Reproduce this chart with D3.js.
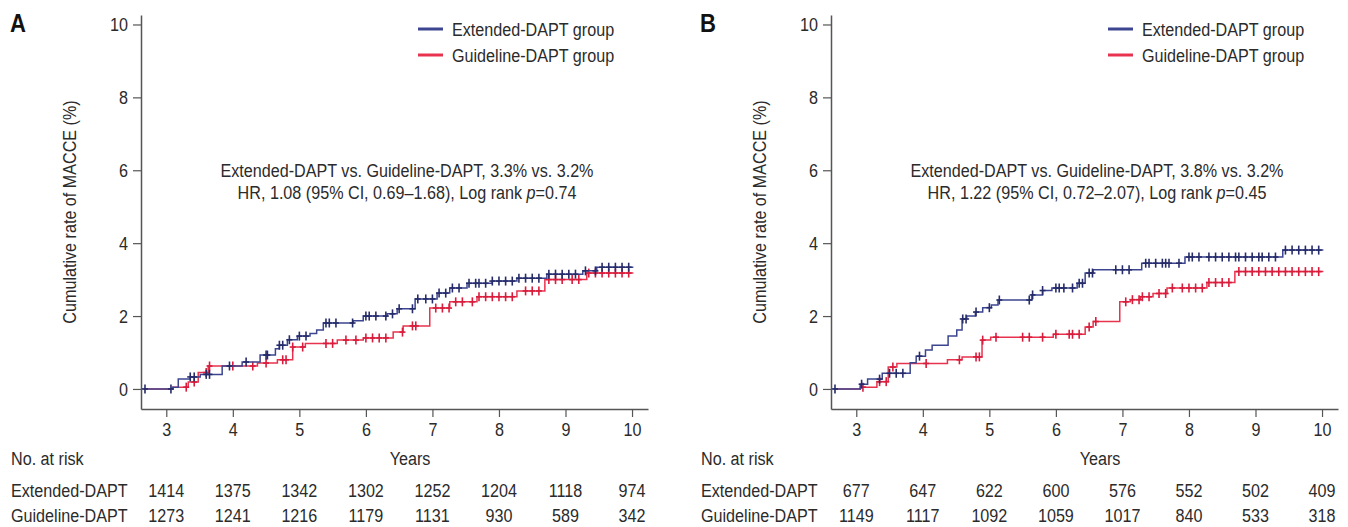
<!DOCTYPE html>
<html>
<head>
<meta charset="utf-8">
<script src="https://cdn.jsdelivr.net/npm/d3@7"></script>
<style>
  body { margin: 0; background: #fff; }
  svg text { font-family: "Liberation Sans", Arial, sans-serif; fill: #2b2b2b; font-size: 19px; }
</style>
</head>
<body>
<svg id="chart" width="1348" height="527"></svg>
<script>
// ---- data ----
const years = [3, 4, 5, 6, 7, 8, 9, 10];
const yTicks = [0, 2, 4, 6, 8, 10];
const groupNames = ["Extended-DAPT group", "Guideline-DAPT group"];
const riskLabels = ["Extended-DAPT", "Guideline-DAPT"];

const riskA_ext = [1414, 1375, 1342, 1302, 1252, 1204, 1118, 974];
const riskA_gui = [1273, 1241, 1216, 1179, 1131, 930, 589, 342];
const riskB_ext = [677, 647, 622, 600, 576, 552, 502, 409];
const riskB_gui = [1149, 1117, 1092, 1059, 1017, 840, 533, 318];

// step curves: [years, cumulative %]
const stepA_ext = [[2.66,0],[3.09,0.05],[3.18,0.27],[3.36,0.33],[3.51,0.4],[3.84,0.63],[4.14,0.74],[4.41,0.93],
  [4.64,1.1],[4.7,1.2],[4.82,1.35],[4.97,1.45],[5.16,1.52],[5.26,1.62],[5.36,1.81],[5.81,1.87],[5.96,2.0],
  [6.32,2.06],[6.47,2.2],[6.74,2.47],[7.07,2.63],[7.26,2.77],[7.52,2.9],[7.9,2.96],[8.27,3.04],[8.72,3.15],
  [9.26,3.24],[9.47,3.34],[10.02,3.34]];
const stepA_gui = [[2.66,0],[3.1,0.05],[3.33,0.19],[3.48,0.45],[3.63,0.63],[4.37,0.71],[4.67,0.8],[4.9,1.15],
  [5.09,1.25],[5.57,1.34],[5.96,1.4],[6.41,1.56],[6.56,1.73],[6.96,2.22],[7.26,2.39],[7.67,2.53],[8.27,2.69],
  [8.69,3.0],[9.32,3.18],[10.02,3.18]];
const stepB_ext = [[2.66,0],[3.06,0.13],[3.17,0.27],[3.39,0.43],[3.81,0.72],[3.9,0.9],[4.04,1.07],[4.14,1.2],
  [4.38,1.45],[4.51,1.62],[4.59,1.92],[4.66,2.0],[4.79,2.11],[4.9,2.23],[5.03,2.3],[5.13,2.44],[5.64,2.58],
  [5.8,2.7],[5.94,2.77],[6.32,2.9],[6.44,3.18],[6.56,3.27],[7.29,3.45],[7.94,3.62],[9.41,3.81],[10.02,3.81]];
const stepB_gui = [[2.66,0],[3.06,0.05],[3.31,0.2],[3.48,0.6],[3.61,0.7],[4.37,0.8],[4.59,0.88],[4.89,1.34],
  [5.02,1.42],[5.96,1.5],[6.44,1.7],[6.56,1.85],[6.96,2.39],[7.12,2.45],[7.27,2.53],[7.46,2.62],[7.67,2.77],
  [8.27,2.92],[8.69,3.22],[10.02,3.22]];

// censoring times (years)
const censA_ext = [2.68,3.07,3.36,3.42,3.6,3.65,3.95,4.2,4.5,4.52,4.7,4.75,4.85,5.0,5.1,5.4,5.45,5.55,5.8,6.0,6.05,
  6.15,6.3,6.4,6.5,6.7,6.78,6.9,7.0,7.1,7.2,7.3,7.4,7.55,7.65,7.7,7.8,7.9,8.0,8.1,8.2,8.3,8.4,8.5,8.6,8.75,8.85,
  8.95,9.05,9.15,9.3,9.45,9.55,9.65,9.75,9.85,9.95];
const censA_gui = [3.3,3.42,3.6,3.65,4.0,4.3,4.5,4.75,4.8,4.9,5.05,5.4,5.5,5.7,5.85,6.0,6.1,6.2,6.3,6.55,6.7,6.75,
  7.05,7.15,7.25,7.35,7.45,7.6,7.7,7.8,7.9,8.0,8.1,8.2,8.4,8.5,8.6,8.75,8.85,8.95,9.1,9.2,9.35,9.45,9.55,9.65,
  9.75,9.85,9.95];
const censB_ext = [2.68,3.08,3.35,3.5,3.6,3.7,3.95,4.6,4.65,4.8,5.0,5.15,5.6,5.65,5.8,6.0,6.05,6.12,6.25,6.35,6.4,
  6.5,6.55,6.9,7.0,7.1,7.35,7.4,7.5,7.6,7.65,7.7,7.85,8.0,8.05,8.15,8.3,8.4,8.5,8.6,8.7,8.75,8.85,8.95,9.05,9.1,
  9.2,9.3,9.45,9.55,9.65,9.75,9.85,9.95];
const censB_gui = [3.1,3.35,3.45,3.55,4.05,4.55,4.8,4.85,4.9,5.1,5.5,5.6,5.8,6.0,6.2,6.25,6.35,6.5,6.6,7.05,7.15,
  7.25,7.3,7.4,7.55,7.65,7.75,7.9,8.0,8.1,8.2,8.3,8.4,8.5,8.6,8.75,8.85,8.95,9.05,9.15,9.25,9.35,9.45,9.55,9.65,
  9.75,9.85,9.95];

const statsA = ["Extended-DAPT vs. Guideline-DAPT, 3.3% vs. 3.2%", "HR, 1.08 (95% CI, 0.69\u20131.68), Log rank ", "=0.74"];
const statsB = ["Extended-DAPT vs. Guideline-DAPT, 3.8% vs. 3.2%", "HR, 1.22 (95% CI, 0.72\u20132.07), Log rank ", "=0.45"];

const colors = ["#3c4590", "#e8334e"];
const markColors = ["#262c6a", "#d91c3c"];
const SX = 0.85; // narrow the Arial-metric font to look condensed

const svg = d3.select("#chart");

// condensed text: placed with translate, squeezed horizontally
function addText(g, x, y, str, anchor, rot) {
  return g.append("text")
    .attr("transform", "translate(" + x + "," + y + ")" + (rot ? " rotate(" + rot + ")" : "") + " scale(" + SX + ",1)")
    .attr("text-anchor", anchor || "start")
    .text(str);
}

function drawPanel(dx, letter, curves, cens, risk, stats) {
  const g = svg.append("g").attr("transform", "translate(" + dx + ",0)");

  const x = d3.scaleLinear().domain([2.62, 10.24]).range([141, 648]);
  const y = d3.scaleLinear().domain([-0.55, 10.26]).range([409, 15]);

  // panel letter
  addText(g, 10, 32, letter).style("font-size", "26px").style("font-weight", "bold").style("fill", "#111");

  // y axis
  const yAxis = g.append("g").attr("transform", "translate(141,0)")
    .call(d3.axisLeft(y).tickValues(yTicks).tickSize(8).tickPadding(5).tickSizeOuter(0));
  // x axis
  const xAxis = g.append("g").attr("transform", "translate(0,409)")
    .call(d3.axisBottom(x).tickValues(years).tickSize(8).tickPadding(6).tickSizeOuter(0));
  [yAxis, xAxis].forEach(a => {
    a.select(".domain").attr("stroke", "#555").attr("stroke-width", 1.5);
    a.selectAll(".tick line").attr("stroke", "#555").attr("stroke-width", 1.2);
    a.selectAll(".tick text")
      .style("font-size", "19px")
      .style("font-family", "'Liberation Sans', Arial, sans-serif")
      .attr("fill", "#2b2b2b")
      .attr("x", function() { return (+d3.select(this).attr("x") || 0) / SX; })
      .attr("transform", "scale(" + SX + ",1)");
  });

  addText(g, 76, 212, "Cumulative rate of MACCE (%)", "middle", -90);

  // curves
  const line = d3.line().x(d => x(d[0])).y(d => y(d[1])).curve(d3.curveStepAfter);
  [1, 0].forEach(i => {
    g.append("path").datum(curves[i])
      .attr("d", line)
      .attr("fill", "none")
      .attr("stroke", colors[i])
      .attr("stroke-width", 1.5);

    const valueAt = t => {
      let v = 0;
      curves[i].forEach(p => { if (p[0] <= t) v = p[1]; });
      return v;
    };
    const marks = g.append("g").selectAll("g").data(cens[i]).join("g")
      .attr("transform", t => "translate(" + x(t) + "," + y(valueAt(t)) + ")")
      .attr("stroke", markColors[i]).attr("stroke-width", 1.6);
    marks.append("line").attr("x1", 0).attr("x2", 0).attr("y1", -4.5).attr("y2", 4.5);
    marks.append("line").attr("x1", -3).attr("x2", 3).attr("y1", 0).attr("y2", 0);
  });

  // legend
  groupNames.forEach((name, i) => {
    const yy = 29 + i * 26;
    g.append("line").attr("x1", 418).attr("x2", 443).attr("y1", yy).attr("y2", yy)
      .attr("stroke", colors[i]).attr("stroke-width", 3);
    addText(g, 452, yy + 7, name);
  });

  // stats annotation
  addText(g, 407, 177, stats[0], "middle");
  const t2 = addText(g, 407, 199, "", "middle");
  t2.append("tspan").text(stats[1]);
  t2.append("tspan").style("font-style", "italic").text("p");
  t2.append("tspan").text(stats[2]);

  // risk table
  addText(g, 410, 465, "Years", "middle");
  addText(g, 11, 465, "No. at risk");
  riskLabels.forEach((lab, i) => {
    const yy = 497 + i * 25;
    addText(g, 11, yy, lab);
    risk[i].forEach((d, j) => addText(g, x(years[j]), yy, d, "middle"));
  });
}

drawPanel(0, "A", [stepA_ext, stepA_gui], [censA_ext, censA_gui], [riskA_ext, riskA_gui], statsA);
drawPanel(690, "B", [stepB_ext, stepB_gui], [censB_ext, censB_gui], [riskB_ext, riskB_gui], statsB);
</script>
</body>
</html>
